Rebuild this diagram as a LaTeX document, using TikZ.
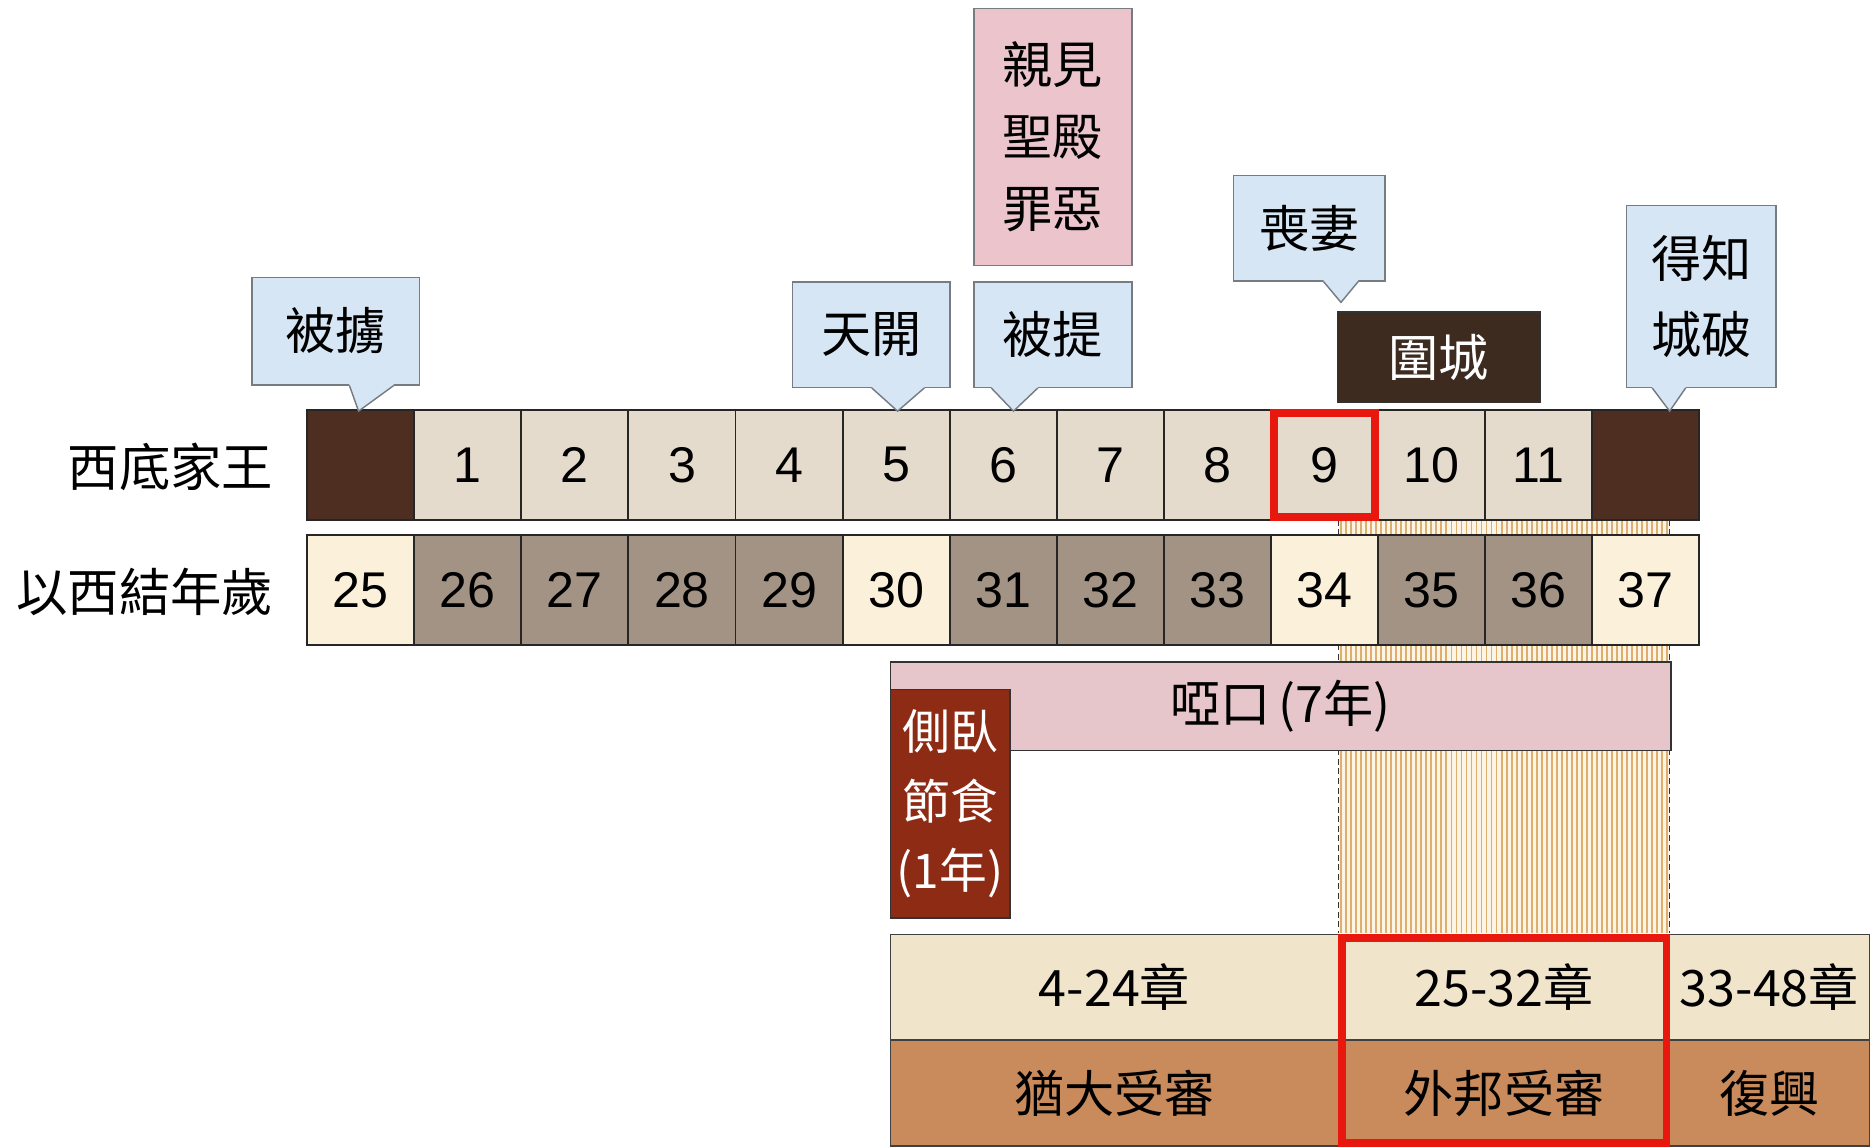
\documentclass[tikz,border=0pt]{standalone}
\usepackage{fontspec}
\setmainfont{Liberation Sans}
\newfontfamily\cjk{Noto Sans CJK TC}
\usetikzlibrary{calc}

\definecolor{marble}{HTML}{4E2E20}
\definecolor{stone}{HTML}{E4DBCC}
\definecolor{cream}{HTML}{FBF0DA}
\definecolor{granite}{HTML}{A39385}
\definecolor{skyfill}{HTML}{D7E6F4}
\definecolor{edgegray}{HTML}{767C82}
\definecolor{rosefill}{HTML}{EBC4CC}
\definecolor{mutefill}{HTML}{E6C6CB}
\definecolor{rust}{HTML}{8E2B14}
\definecolor{walnut}{HTML}{3D2B20}
\definecolor{paper}{HTML}{F0E4CA}
\definecolor{wood}{HTML}{C98B5C}
\definecolor{tan}{HTML}{DDAE6E}
\definecolor{mark}{HTML}{E8180F}

\tikzset{
  cell/.style={draw=black!85, line width=0.8pt, minimum width=44.8pt,
    minimum height=46pt, inner sep=0pt, font=\fontsize{21}{25}\selectfont},
  rowlabel/.style={inner sep=0pt, font=\cjk\fontsize{21.5}{26}\selectfont},
  callbox/.style={draw=edgegray, fill=skyfill, line width=0.6pt, inner sep=0pt,
    align=center, font=\cjk\fontsize{21}{32}\selectfont},
  callfill/.style={fill=skyfill},
  calledge/.style={draw=edgegray, line width=0.6pt},
  plainbox/.style={draw=black!80, line width=0.6pt, inner sep=0pt, align=center,
    font=\cjk\fontsize{21}{30}\selectfont},
  bookbox/.style={draw=black!75, line width=0.6pt, inner sep=0pt,
    font=\cjk\fontsize{21}{26}\selectfont},
  redframe/.style={draw=mark, line width=3.4pt},
  stripe/.style={draw=tan, line width=0.75pt}
}

\begin{document}
\begin{tikzpicture}[x=0.5pt, y=-0.5pt]
\useasboundingbox[fill=white] (0,0) rectangle (1568,959);

% striped band behind the rows (siege years)
\fill[cream!70!white] (1120,435) rectangle (1397,781);
\foreach \x in {1122,1126.2,...,1396}
  \draw[stripe] (\x,435) -- (\x,781);
\draw[black!80, line width=0.6pt, dash pattern=on 2.5pt off 1.5pt] (1120,435) -- (1120,781);
\draw[black!80, line width=0.6pt, dash pattern=on 2.5pt off 1.5pt] (1397,435) -- (1397,781);

% row labels
\node[rowlabel, anchor=east] (kinglab) at (229,391) {西底家王};
\node[rowlabel, anchor=east] (agelab) at (229,495) {以西結年歲};

% king's years
\foreach \i/\n/\c in {0//marble,1/1/stone,2/2/stone,3/3/stone,4/4/stone,
    5/5/stone,6/6/stone,7/7/stone,8/8/stone,9/9/stone,10/10/stone,
    11/11/stone,12//marble}
  \node[cell, fill=\c] (k\i) at ({301.8+89.6*\i},389) {\n};

% Ezekiel's age
\foreach \i/\n/\c in {0/25/cream,1/26/granite,2/27/granite,3/28/granite,
    4/29/granite,5/30/cream,6/31/granite,7/32/granite,8/33/granite,
    9/34/cream,10/35/granite,11/36/granite,12/37/cream}
  \node[cell, fill=\c] (a\i) at ({301.8+89.6*\i},494) {\n};

\draw[redframe] ($(k9.north west)+(3.5,3.5)$) rectangle ($(k9.south east)+(-3.5,-3.5)$);

% callouts
\node[callbox, minimum width=70pt, minimum height=45pt] (capt) at (281,277) {被擄};
\node[callbox, minimum width=66pt, minimum height=44pt] (heav) at (729,280) {天開};
\node[callbox, minimum width=66pt, minimum height=44pt] (lift) at (881,280) {被提};
\node[callbox, minimum width=63.5pt, minimum height=44pt] (wife) at (1095.5,191) {喪妻};
\node[callbox, minimum width=62.5pt, minimum height=76pt] (fall) at (1423.5,248) {得知\\城破};

\coordinate (capttip) at (300,344);
\coordinate (heavtip) at (751,344);
\coordinate (lifttip) at (848,344);
\coordinate (wifetip) at (1122,253);
\coordinate (falltip) at (1397,344);

\fill[callfill] ($(capt.south west)+(82,-2)$) -- ($(capt.south west)+(82,0)$) -- (capttip)
  -- ($(capt.south west)+(119,0)$) -- ($(capt.south west)+(119,-2)$) -- cycle;
\draw[calledge] ($(capt.south west)+(82,0)$) -- (capttip) -- ($(capt.south west)+(119,0)$);
\fill[callfill] ($(heav.south west)+(67,-2)$) -- ($(heav.south west)+(67,0)$) -- (heavtip)
  -- ($(heav.south west)+(111,0)$) -- ($(heav.south west)+(111,-2)$) -- cycle;
\draw[calledge] ($(heav.south west)+(67,0)$) -- (heavtip) -- ($(heav.south west)+(111,0)$);
\fill[callfill] ($(lift.south west)+(15,-2)$) -- ($(lift.south west)+(15,0)$) -- (lifttip)
  -- ($(lift.south west)+(54,0)$) -- ($(lift.south west)+(54,-2)$) -- cycle;
\draw[calledge] ($(lift.south west)+(15,0)$) -- (lifttip) -- ($(lift.south west)+(54,0)$);
\fill[callfill] ($(wife.south west)+(76,-2)$) -- ($(wife.south west)+(76,0)$) -- (wifetip)
  -- ($(wife.south west)+(105,0)$) -- ($(wife.south west)+(105,-2)$) -- cycle;
\draw[calledge] ($(wife.south west)+(76,0)$) -- (wifetip) -- ($(wife.south west)+(105,0)$);
\fill[callfill] ($(fall.south west)+(22,-2)$) -- ($(fall.south west)+(22,0)$) -- (falltip)
  -- ($(fall.south west)+(50,0)$) -- ($(fall.south west)+(50,-2)$) -- cycle;
\draw[calledge] ($(fall.south west)+(22,0)$) -- (falltip) -- ($(fall.south west)+(50,0)$);

\node[plainbox, fill=rosefill, draw=edgegray, minimum width=66pt, minimum height=107.5pt]
  (temple) at (881,114.5) {親見\\聖殿\\罪惡};
\node[plainbox, fill=walnut, text=white, minimum width=85pt, minimum height=38pt]
  (siege) at (1204,299) {圍城};

% mute and lying on side
\node[plainbox, fill=mutefill, minimum width=326.5pt, minimum height=37pt]
  (mute) at (1071.5,591) {啞口\,(7年)};
\node[plainbox, fill=rust, text=white, minimum width=50pt, minimum height=95.5pt,
  font=\cjk\fontsize{20}{29}\selectfont] (lie) at (795,672.5) {側臥\\節食\\(1年)};

% book sections
\node[bookbox, fill=paper, minimum width=187.5pt, minimum height=44pt] (ch1) at (932.5,826) {4-24章};
\node[bookbox, fill=paper, minimum width=138.5pt, minimum height=44pt] (ch2) at (1258.5,826) {25-32章};
\node[bookbox, fill=paper, minimum width=83.5pt, minimum height=44pt] (ch3) at (1480.5,826) {33-48章};
\node[bookbox, fill=wood, minimum width=187.5pt, minimum height=44.5pt] (th1) at (932.5,914.5) {猶大受審};
\node[bookbox, fill=wood, minimum width=138.5pt, minimum height=44.5pt] (th2) at (1258.5,914.5) {外邦受審};
\node[bookbox, fill=wood, minimum width=83.5pt, minimum height=44.5pt] (th3) at (1480.5,914.5) {復興};

\draw[redframe, line width=3.2pt] ($(ch2.north west)+(3.2,3.2)$) rectangle ($(th2.south east)+(-3.2,-3.2)$);
\end{tikzpicture}
\end{document}
